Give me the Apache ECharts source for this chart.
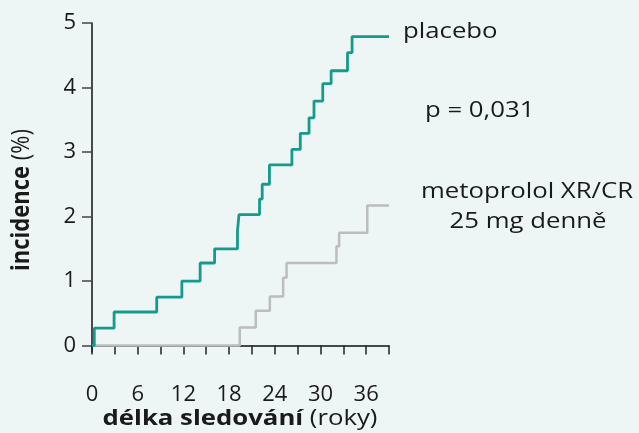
<!DOCTYPE html>
<html>
<head>
<meta charset="utf-8">
<script src="https://cdn.jsdelivr.net/npm/echarts@6/dist/echarts.min.js"></script>
<style>
  html, body { margin: 0; padding: 0; background: #edf6f4; }
  #chart { width: 639px; height: 433px; }
</style>
</head>
<body>
<div id="chart"></div>
<script>
// Kaplan–Meier style cumulative incidence (%) over follow-up time
const placeboTimes = [0, 0.3, 2.9, 8.5, 11.8, 14.2, 16.1, 19.1, 19.3, 22.0, 22.35, 23.3, 26.25, 27.35, 28.5, 29.15, 30.3, 31.4, 33.55, 34.15, 39];
const placeboRisk  = [0, 0.27, 0.52, 0.75, 1.0, 1.28, 1.5, 1.77, 2.03, 2.27, 2.5, 2.8, 3.04, 3.29, 3.53, 3.79, 4.06, 4.26, 4.54, 4.79, 4.79];

const metoprololTimes = [0, 19.4, 21.5, 23.35, 25.1, 25.55, 32.1, 32.45, 36.15, 39];
const metoprololRisk  = [0, 0.28, 0.54, 0.76, 1.05, 1.28, 1.54, 1.75, 2.17, 2.17];

const xTicks = [0, 6, 12, 18, 24, 30, 36];
const yTicks = [0, 1, 2, 3, 4, 5];

const pairs = (xs, ys) => xs.map((x, i) => [x, ys[i]]);

const FONT = '"Open Sans", "Noto Sans", sans-serif';
const TEXT = '#1a1a1a';
const TEAL = '#159a8c';
const GREY = '#bdbdbd';
const WIDE = 1.17; // horizontal stretch of the annotation lettering

const chart = echarts.init(document.getElementById('chart'), null, { renderer: 'canvas' });

function note(text, x, y, align, size) {
  size = size || 22;
  return {
    type: 'text', x: x, y: y, scaleX: WIDE,
    style: {
      text: text, x: 0, y: 0, align: align || 'left', verticalAlign: 'middle',
      font: size + 'px ' + FONT, fill: TEXT,
      rich: {
        b: { fontFamily: FONT, fontSize: size, fontWeight: 'bold', fill: TEXT },
        r: { fontFamily: FONT, fontSize: size, fill: TEXT }
      }
    }
  };
}

// vertical axis title, reading bottom to top
const yTitle = note('{b|incidence} {r|(%)}', 22, 200, 'center', 22);
yTitle.rotation = Math.PI / 2;
yTitle.scaleX = 1;
yTitle.scaleY = WIDE;

chart.setOption({
  backgroundColor: '#edf6f4',
  animation: false,
  grid: { left: 92, right: 250, top: 23, bottom: 81 },
  xAxis: {
    type: 'value',
    min: 0,
    max: 39,
    interval: 3,
    axisLine: { lineStyle: { color: '#111', width: 1.5 } },
    axisTick: { length: 9, lineStyle: { color: '#222', width: 1.5 } },
    axisLabel: {
      customValues: xTicks,
      margin: 32,
      fontFamily: FONT, fontSize: 22, color: TEXT
    },
    splitLine: { show: false }
  },
  yAxis: {
    type: 'value',
    min: -0.1,
    max: 5,
    axisLine: { show: true, lineStyle: { color: '#111', width: 1.5 } },
    axisTick: { show: true, customValues: yTicks, length: 10, lineStyle: { color: '#444', width: 1.5 } },
    axisLabel: {
      customValues: yTicks,
      margin: 16,
      fontFamily: FONT, fontSize: 22, color: TEXT
    },
    splitLine: { show: false }
  },
  series: [
    {
      name: 'metoprolol XR/CR 25 mg denně',
      type: 'line',
      step: 'end',
      data: pairs(metoprololTimes, metoprololRisk),
      showSymbol: false,
      lineStyle: { color: GREY, width: 2.5 },
      z: 2
    },
    {
      name: 'placebo',
      type: 'line',
      step: 'end',
      data: pairs(placeboTimes, placeboRisk),
      showSymbol: false,
      lineStyle: { color: TEAL, width: 2.8 },
      z: 3
    }
  ],
  graphic: [
    note('placebo', 403, 31.5),
    note('p = 0,031', 425, 111),
    note('metoprolol XR/CR', 421, 191.5),
    note('25 mg denně', 528, 221.5, 'center'),
    note('{b|délka sledování} {r|(roky)}', 240, 419, 'center'),
    yTitle
  ]
});
</script>
</body>
</html>
